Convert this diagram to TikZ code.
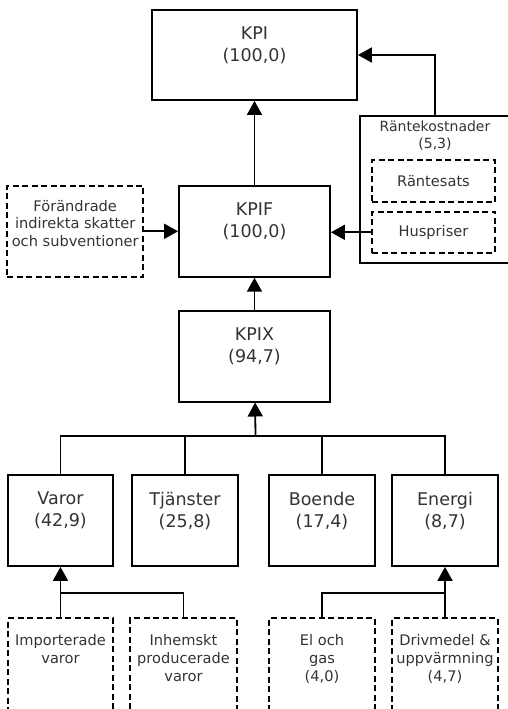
\documentclass[tikz,border=0pt]{standalone}
\usepackage{fontspec}
\setmainfont{DejaVu Sans}
\usetikzlibrary{arrows.meta, positioning, calc}

\begin{document}
\begin{tikzpicture}[
    x=1pt, y=-1pt,
    every node/.style={font=\fontsize{14.6}{17.8}\selectfont, text=black!80},
    box/.style={draw, line width=1.8pt, minimum width=151pt, minimum height=91pt, inner sep=0pt},
    dbox/.style={box, dash pattern=on 6pt off 3.5pt, line width=1.8pt},
    txt/.style={align=center, inner sep=0pt},
    bigtxt/.style={txt, font=\fontsize{17.5}{22}\selectfont},
    arrow/.style={-{Triangle[length=14pt, width=15pt]}, line width=1.8pt},
    line/.style={line width=1.8pt}
]
    \clip (0,0) rectangle (508,709);

    % upper part
    \node[box, minimum width=205pt, minimum height=90pt] (kpi) at (254.5,55) {};
    \node[box, below=84pt of kpi] (kpif) {};
    \node[box, below=32pt of kpif] (kpix) {};
    \node[dbox, left=34pt of kpif, minimum width=136pt] (forandr) {};
    \node[bigtxt, below=17.5pt of kpi.north] (kpitxt) {KPI\\(100,0)};
    \node[bigtxt, below=17.5pt of kpif.north] (kpiftxt) {KPIF\\(100,0)};
    \node[bigtxt, below=17.5pt of kpix.north] (kpixtxt) {KPIX\\(94,7)};
    \node[txt, below=15pt of forandr.north] (forandrtxt) {Förändrade\\indirekta skatter\\och subventioner};

    \node[box, minimum width=150pt, minimum height=147pt] (rk) at (435,189.5) {};
    \node[txt, below=6pt of rk.north, font=\fontsize{14}{17}\selectfont] (rktxt) {Räntekostnader\\(5,3)};
    \node[dbox, minimum width=123pt, minimum height=42pt] (rsats) at (433.5,181) {Räntesats};
    \node[dbox, minimum width=123pt, minimum height=41pt, below=8pt of rsats] (husp) {Huspriser};

    % groups
    \node[box, minimum width=105pt] (varor) at (60.5,520.5) {};
    \node[box, minimum width=106pt] (tjanster) at (185,520.5) {};
    \node[box, minimum width=106pt] (boende) at (322,520.5) {};
    \node[box, minimum width=106pt] (energi) at (445,520.5) {};
    \node[bigtxt, below=17.5pt of varor.north] (varortxt) {Varor\\(42,9)};
    \node[bigtxt, below=17.5pt of tjanster.north] (tjanstertxt) {Tjänster\\(25,8)};
    \node[bigtxt, below=17.5pt of boende.north] (boendetxt) {Boende\\(17,4)};
    \node[bigtxt, below=17.5pt of energi.north] (energitxt) {Energi\\(8,7)};

    % sub groups, cut at the bottom
    \node[dbox, minimum width=105pt, minimum height=100pt] (imp) at (60.5,668) {};
    \node[dbox, minimum width=107pt, minimum height=100pt] (inh) at (183.5,668) {};
    \node[dbox, minimum width=106pt, minimum height=100pt] (el) at (322,668) {};
    \node[dbox, minimum width=106pt, minimum height=100pt] (driv) at (445,668) {};
    \node[txt, below=17.2pt of imp.north] (imptxt) {Importerade\\varor};
    \node[txt, below=17.2pt of inh.north] (inhtxt) {Inhemskt\\producerade\\varor};
    \node[txt, below=17.2pt of el.north] (eltxt) {El och\\gas\\(4,0)};
    \node[txt, below=17.2pt of driv.north] (drivtxt) {Drivmedel \&\\uppvärmning\\(4,7)};

    \coordinate (bus) at (255.5,436);
    \coordinate (vbus) at (60.5,593);
    \coordinate (ebus) at (445,593);

    \draw[arrow] (kpif) -- (kpi);
    \draw[arrow] (rk.north) |- (kpi.east);
    \draw[arrow] (husp.west) -- (husp.west -| kpif.east);
    \draw[arrow] (forandr) -- (kpif);
    \draw[arrow] (kpix) -- (kpif);

    \draw[line] (varor.north) |- (bus) -| (energi.north);
    \draw[line] (tjanster.north) -- (tjanster.north |- bus);
    \draw[line] (boende.north) -- (boende.north |- bus);
    \draw[arrow] (bus) -- (kpix);

    \draw[line] (inh.north) |- (vbus);
    \draw[arrow] (imp.north) -- (varor);
    \draw[line] (el.north) |- (ebus);
    \draw[arrow] (driv.north) -- (energi);
\end{tikzpicture}
\end{document}
